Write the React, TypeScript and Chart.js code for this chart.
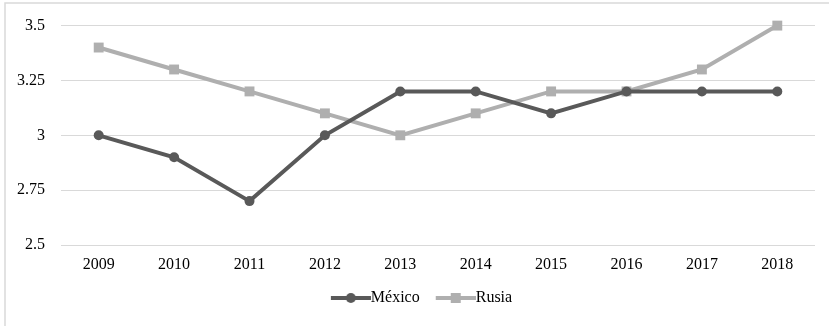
import React, { useEffect, useRef } from "react";
import { Chart, registerables } from "chart.js";

Chart.register(...registerables);

const years = ["2009", "2010", "2011", "2012", "2013", "2014", "2015", "2016", "2017", "2018"];
const mexico = [3, 2.9, 2.7, 3, 3.2, 3.2, 3.1, 3.2, 3.2, 3.2];
const rusia = [3.4, 3.3, 3.2, 3.1, 3.0, 3.1, 3.2, 3.2, 3.3, 3.5];
const yTicks = ["2.5", "2.75", "3", "3.25", "3.5"];

const MEX_COLOR = "#595959";
const RUS_COLOR = "#afafaf";
const GRID_COLOR = "#d9d9d9";
const FONT = "'Liberation Serif', 'Times New Roman', serif";

// Legend swatch: a short line segment with the series marker in the middle.
function makeSwatch(color: string, marker: "circle" | "rect"): HTMLCanvasElement {
  const c = document.createElement("canvas");
  c.width = 54;
  c.height = 12;
  const ctx = c.getContext("2d")!;
  ctx.strokeStyle = color;
  ctx.fillStyle = color;
  ctx.lineWidth = 4;
  ctx.beginPath();
  ctx.moveTo(14, 6);
  ctx.lineTo(54, 6);
  ctx.stroke();
  if (marker === "circle") {
    ctx.beginPath();
    ctx.arc(34, 6, 5, 0, Math.PI * 2);
    ctx.fill();
  } else {
    ctx.fillRect(29, 1, 10, 10);
  }
  return c;
}

// Light frame along the left and top edges.
const frame = {
  id: "frame",
  beforeDraw(chart: any) {
    const ctx = chart.ctx;
    ctx.save();
    ctx.strokeStyle = GRID_COLOR;
    ctx.lineWidth = 1.5;
    ctx.beginPath();
    ctx.moveTo(5, chart.height);
    ctx.lineTo(5, 3);
    ctx.lineTo(chart.width, 3);
    ctx.stroke();
    ctx.restore();
  },
};

// Nudge the legend so it sits centred under the whole figure.
const legendShift = {
  id: "legendShift",
  afterLayout(chart: any) {
    const lg = chart.legend;
    if (lg) {
      lg.left += 11;
      lg.right += 11;
    }
  },
};

export default function App() {
  const ref = useRef<HTMLCanvasElement>(null);

  useEffect(() => {
    const swatches = [makeSwatch(MEX_COLOR, "circle"), makeSwatch(RUS_COLOR, "rect")];
    const chart = new Chart(ref.current!, {
      type: "line",
      data: {
        labels: years,
        datasets: [
          {
            label: "México",
            data: mexico,
            borderColor: MEX_COLOR,
            backgroundColor: MEX_COLOR,
            borderWidth: 4,
            pointStyle: "circle",
            pointRadius: 5,
            pointBorderWidth: 0,
            tension: 0,
            clip: false,
          },
          {
            label: "Rusia",
            data: rusia,
            borderColor: RUS_COLOR,
            backgroundColor: RUS_COLOR,
            borderWidth: 4,
            pointStyle: "rect",
            pointRadius: 7,
            pointBorderWidth: 0,
            tension: 0,
            clip: false,
          },
        ],
      },
      options: {
        responsive: false,
        animation: false,
        layout: { padding: { left: 0, right: 14, top: 24, bottom: 10 } },
        scales: {
          x: {
            offset: true,
            grid: { display: false, drawTicks: false },
            border: { display: false },
            ticks: { color: "#000", font: { family: FONT, size: 16 }, padding: 10, maxRotation: 0 },
            afterFit: (s: any) => {
              s.height = 35;
            },
          },
          y: {
            min: 2.5,
            max: 3.5,
            grid: { color: GRID_COLOR, lineWidth: 1, drawTicks: false },
            border: { display: false },
            ticks: {
              stepSize: 0.25,
              color: "#000",
              font: { family: FONT, size: 16 },
              padding: 16,
              callback: (_v: any, i: number) => yTicks[i],
            },
            afterFit: (s: any) => {
              s.width = 61;
            },
          },
        },
        plugins: {
          legend: {
            position: "bottom",
            labels: {
              usePointStyle: true,
              pointStyleWidth: 38,
              color: "#000",
              font: { family: FONT, size: 16 },
              padding: 10,
              generateLabels: (c: any) =>
                c.data.datasets.map((d: any, i: number) => ({
                  text: d.label,
                  pointStyle: swatches[i],
                  fillStyle: d.borderColor,
                  strokeStyle: d.borderColor,
                  lineWidth: 0,
                  hidden: false,
                  datasetIndex: i,
                  fontColor: "#000",
                })),
            },
          },
          tooltip: { enabled: false },
        },
      },
      plugins: [frame, legendShift],
    });
    return () => chart.destroy();
  }, []);

  return (
    <div style={{ position: "absolute", left: 0, top: 0, width: 829, height: 326, background: "#fff" }}>
      <canvas ref={ref} width={829} height={326} style={{ width: 829, height: 326, display: "block" }} />
    </div>
  );
}
